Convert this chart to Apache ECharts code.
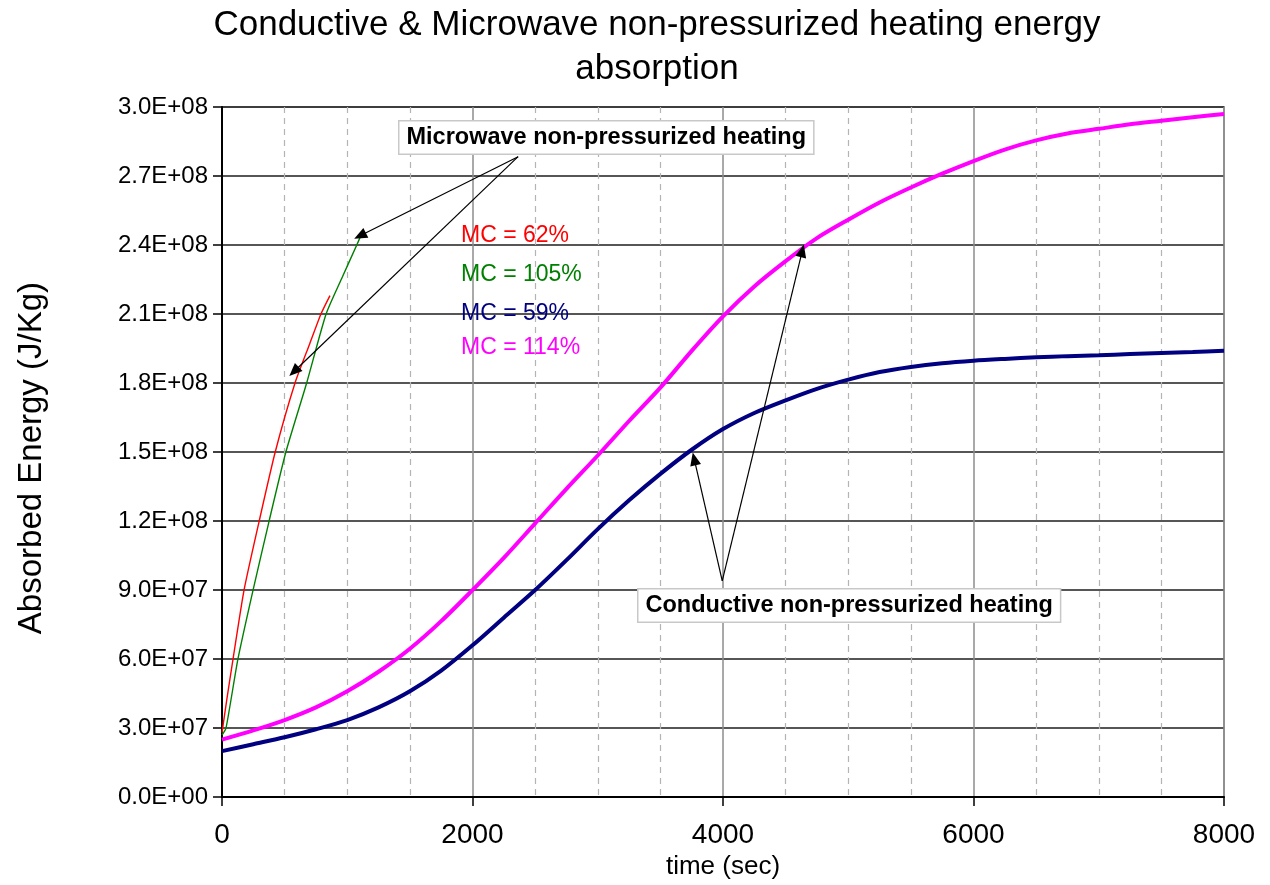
<!DOCTYPE html>
<html>
<head>
<meta charset="utf-8">
<script src="https://cdn.jsdelivr.net/npm/echarts@6/dist/echarts.min.js"></script>
<style>
html,body{margin:0;padding:0;background:#fff;}
#chart{width:1270px;height:885px;}
</style>
</head>
<body>
<div id="chart"></div>
<script>
// ---- Data ----
const titleText = 'Conductive & Microwave non-pressurized heating energy\nabsorption';
const xAxisName = 'time (sec)';
const yAxisName = 'Absorbed Energy (J/Kg)';

// Microwave non-pressurized heating, MC = 62% (red)
const redTime   = [0, 40, 88, 176, 297, 425, 583, 700, 790, 862];
const redEnergy = [2.8e7, 4.3e7, 6.0e7, 9.0e7, 1.2e8, 1.5e8, 1.8e8, 1.97e8, 2.1e8, 2.18e8];

// Microwave non-pressurized heating, MC = 105% (green)
const greenTime   = [0, 32, 127, 248, 376, 510, 676, 831, 960, 1076, 1108];
const greenEnergy = [2.7e7, 3.0e7, 6.0e7, 9.0e7, 1.2e8, 1.5e8, 1.8e8, 2.1e8, 2.26e8, 2.4e8, 2.44e8];

// Conductive non-pressurized heating
const condTime = [0, 250, 500, 750, 1000, 1250, 1500, 1750, 2000, 2250, 2500, 2750, 3000, 3250, 3500, 3750,
                  4000, 4250, 4500, 4750, 5000, 5250, 5500, 5750, 6000, 6250, 6500, 6750, 7000, 7250, 7500, 7750, 8000];
// MC = 59% (navy)
const navyEnergy = [2.0e7, 2.3e7, 2.6e7, 2.95e7, 3.35e7, 3.9e7, 4.6e7, 5.5e7, 6.6e7, 7.8e7, 9.0e7, 1.03e8, 1.165e8, 1.29e8, 1.405e8, 1.51e8,
                    1.6e8, 1.67e8, 1.725e8, 1.775e8, 1.815e8, 1.848e8, 1.87e8, 1.886e8, 1.897e8, 1.905e8, 1.912e8, 1.917e8, 1.921e8, 1.926e8, 1.931e8, 1.935e8, 1.94e8];
// MC = 114% (magenta)
const pinkEnergy = [2.5e7, 2.9e7, 3.35e7, 3.9e7, 4.6e7, 5.45e7, 6.45e7, 7.65e7, 9.0e7, 1.04e8, 1.19e8, 1.34e8, 1.485e8, 1.635e8, 1.78e8, 1.94e8,
                    2.09e8, 2.22e8, 2.33e8, 2.43e8, 2.51e8, 2.585e8, 2.65e8, 2.71e8, 2.765e8, 2.815e8, 2.855e8, 2.885e8, 2.905e8, 2.925e8, 2.94e8, 2.955e8, 2.97e8];

const mcLabels = ['MC = 62%', 'MC = 105%', 'MC = 59%', 'MC = 114%'];
const microNote = 'Microwave non-pressurized heating';
const condNote = 'Conductive non-pressurized heating';

// Arrow annotations in data coordinates [time, energy]
const microArrowFrom = [2364, 2.784e8];
const microArrowTo = [[1102, 2.44e8], [575, 1.85e8]];
const condArrowFrom = [3994, 9.4e7];
const condArrowTo = [[3770, 1.47e8], [4633, 2.375e8]];

// ---- Build chart ----
function zip(xs, ys) { return xs.map((x, i) => [x, ys[i]]); }
function sci(v) {
  if (v === 0) return '0.0E+00';
  const e = Math.floor(Math.log10(Math.abs(v)) + 1e-9);
  const m = v / Math.pow(10, e);
  return m.toFixed(1) + 'E+' + String(e).padStart(2, '0');
}

const FONT = 'Liberation Sans, Arial, sans-serif';
const chart = echarts.init(document.getElementById('chart'));

const arrowStyle = {color: '#000', width: 1.2, type: 'solid'};
function arrowLines(from, tos) {
  return tos.map(t => [{coord: from, symbol: 'none'}, {coord: t, symbol: 'triangle', symbolSize: [11, 13]}]);
}

chart.setOption({
  animation: false,
  backgroundColor: '#fff',
  title: {
    text: titleText,
    left: 652,
    top: -2,
    textAlign: 'center',
    textStyle: {fontFamily: FONT, fontSize: 35, fontWeight: 'normal', color: '#000', lineHeight: 44}
  },
  grid: {left: 222, right: 46, top: 107, bottom: 78, show: true, borderColor: '#9a9a9a', borderWidth: 2, backgroundColor: 'transparent'},
  xAxis: {
    type: 'value', min: 0, max: 8000, interval: 2000,
    name: xAxisName, nameLocation: 'middle', nameGap: 44,
    nameTextStyle: {fontFamily: FONT, fontSize: 26, color: '#000'},
    axisLine: {show: true, onZero: false, lineStyle: {color: '#000', width: 2}},
    axisTick: {show: true, length: 9, lineStyle: {color: '#000', width: 1.5}},
    axisLabel: {fontFamily: FONT, fontSize: 28, color: '#000', margin: 24, formatter: v => String(v)},
    splitLine: {show: true, lineStyle: {color: '#8c8c8c', width: 1.5}},
    minorTick: {show: false, splitNumber: 4},
    minorSplitLine: {show: true, lineStyle: {color: '#b4b4b4', width: 1.2, type: [6, 5]}}
  },
  yAxis: {
    type: 'value', min: 0, max: 3e8, interval: 3e7,
    name: yAxisName, nameLocation: 'middle', nameGap: 174, nameRotate: 90,
    nameTextStyle: {fontFamily: FONT, fontSize: 33, color: '#000', padding: [0, 12, 0, 0]},
    axisLine: {show: true, onZero: false, lineStyle: {color: '#000', width: 2}},
    axisTick: {show: true, length: 9, lineStyle: {color: '#000', width: 1.5}},
    axisLabel: {fontFamily: FONT, fontSize: 24, color: '#000', margin: 14, formatter: sci},
    splitLine: {show: true, lineStyle: {color: '#1e1e1e', width: 1.6}}
  },
  series: [
    {
      name: 'MC = 114%', type: 'line', data: zip(condTime, pinkEnergy), smooth: 0.3,
      showSymbol: false, lineStyle: {color: '#ff00ff', width: 4}, itemStyle: {color: '#ff00ff'}, z: 3
    },
    {
      name: 'MC = 59%', type: 'line', data: zip(condTime, navyEnergy), smooth: 0.3,
      showSymbol: false, lineStyle: {color: '#000080', width: 4}, itemStyle: {color: '#000080'}, z: 3,
      markLine: {silent: true, animation: false, lineStyle: arrowStyle, label: {show: false},
                 data: arrowLines(condArrowFrom, condArrowTo)}
    },
    {
      name: 'MC = 62%', type: 'line', data: zip(redTime, redEnergy), smooth: 0.2,
      showSymbol: false, lineStyle: {color: '#ff0000', width: 1.4}, itemStyle: {color: '#ff0000'}, z: 4
    },
    {
      name: 'MC = 105%', type: 'line', data: zip(greenTime, greenEnergy), smooth: 0.2,
      showSymbol: false, lineStyle: {color: '#008000', width: 1.4}, itemStyle: {color: '#008000'}, z: 4,
      markLine: {silent: true, animation: false, lineStyle: arrowStyle, label: {show: false},
                 data: arrowLines(microArrowFrom, microArrowTo)}
    }
  ],
  graphic: [
    {type: 'text', left: 461, top: 224, z: 10, style: {text: mcLabels[0], font: '23px ' + FONT, fill: '#ff0000'}},
    {type: 'text', left: 461, top: 263, z: 10, style: {text: mcLabels[1], font: '23px ' + FONT, fill: '#008000'}},
    {type: 'text', left: 461, top: 302, z: 10, style: {text: mcLabels[2], font: '23px ' + FONT, fill: '#000080'}},
    {type: 'text', left: 461, top: 336, z: 10, style: {text: mcLabels[3], font: '23px ' + FONT, fill: '#ff00ff'}},
    {type: 'text', left: 398, top: 120, z: 10,
     style: {text: microNote, font: 'bold 23.5px ' + FONT, fill: '#000', backgroundColor: '#fff',
             borderColor: '#c8c8c8', borderWidth: 1.5, padding: [4, 7, 4, 7]}},
    {type: 'text', left: 637, top: 588, z: 10,
     style: {text: condNote, font: 'bold 23.5px ' + FONT, fill: '#000', backgroundColor: '#fff',
             borderColor: '#c8c8c8', borderWidth: 1.5, padding: [4, 7, 4, 7]}}
  ]
});
</script>
</body>
</html>
